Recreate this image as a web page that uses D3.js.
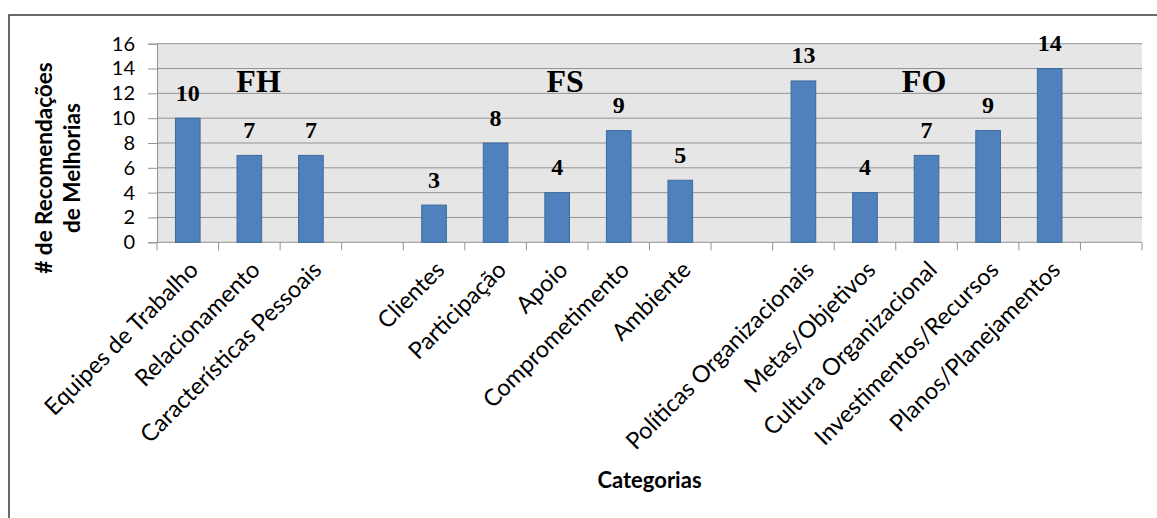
<!DOCTYPE html>
<html>
<head>
<meta charset="utf-8">
<script src="https://cdn.jsdelivr.net/npm/d3@7"></script>
<style>
  html, body { margin: 0; padding: 0; background: #ffffff; }
  svg { display: block; }
</style>
</head>
<body>
<svg id="chart" width="1157" height="518"></svg>
<script>
// Categories in plot order; empty strings are spacer slots between groups
const categories = [
  "Equipes de Trabalho", "Relacionamento", "Características Pessoais", "",
  "Clientes", "Participação", "Apoio", "Comprometimento", "Ambiente", "",
  "Políticas Organizacionais", "Metas/Objetivos", "Cultura Organizacional",
  "Investimentos/Recursos", "Planos/Planejamentos", ""
];
const values = [10, 7, 7, null, 3, 8, 4, 9, 5, null, 13, 4, 7, 9, 14, null];

// Group headings and where they sit (slot position, value height)
const groupNames = ["FH", "FS", "FO"];
const groupSlots = [1.15, 6.13, 11.96];
const groupLevel = 12.1;

const yTicks = [0, 2, 4, 6, 8, 10, 12, 14, 16];
const yTitleLines = ["# de Recomendações", "de Melhorias"];
const xTitle = "Categorias";

const svg = d3.select("#chart");
const W = 1157, H = 518;
const plot = { left: 157, right: 1142, top: 43.7, bottom: 242.3 };

svg.append("rect").attr("width", W).attr("height", H).attr("fill", "#ffffff");

// outer frame (top and left edges)
svg.append("path")
  .attr("d", `M9,${H} L9,15 L${W},15`)
  .attr("fill", "none").attr("stroke", "#3a3a3a").attr("stroke-width", 1.5);

const x = d3.scaleBand()
  .domain(d3.range(categories.length))
  .range([plot.left, plot.right])
  .paddingInner(0.6)
  .paddingOuter(0.3);

const slotX = d3.scaleLinear()
  .domain([0, categories.length])
  .range([plot.left, plot.right]);

const y = d3.scaleLinear().domain([0, 16]).range([plot.bottom, plot.top]);

// plot background
svg.append("rect")
  .attr("x", plot.left).attr("y", plot.top)
  .attr("width", plot.right - plot.left).attr("height", plot.bottom - plot.top)
  .attr("fill", "#e6e6e6");

// horizontal gridlines
svg.append("g")
  .selectAll("line")
  .data(yTicks.filter(d => d > 0))
  .join("line")
  .attr("x1", plot.left).attr("x2", plot.right)
  .attr("y1", d => y(d)).attr("y2", d => y(d))
  .attr("stroke", "#939393").attr("stroke-width", 1);

// y axis
const yAxis = svg.append("g")
  .attr("transform", `translate(${plot.left},0)`)
  .call(d3.axisLeft(y).tickValues(yTicks).tickSize(9).tickPadding(13));
yAxis.select(".domain").attr("stroke", "#939393");
yAxis.selectAll(".tick line").attr("stroke", "#939393");
yAxis.selectAll(".tick text")
  .attr("font-family", "Lato, 'Open Sans', sans-serif")
  .attr("font-size", 20)
  .attr("fill", "#000");

// x axis baseline and slot boundary ticks
svg.append("line")
  .attr("x1", plot.left).attr("x2", plot.right)
  .attr("y1", y(0)).attr("y2", y(0))
  .attr("stroke", "#939393");
svg.append("g")
  .selectAll("line")
  .data(d3.range(categories.length + 1))
  .join("line")
  .attr("x1", d => slotX(d)).attr("x2", d => slotX(d))
  .attr("y1", y(0)).attr("y2", y(0) + 8)
  .attr("stroke", "#939393");

// bars
const barData = values.map((v, i) => ({ i, v })).filter(d => d.v != null);
svg.append("g")
  .selectAll("rect")
  .data(barData)
  .join("rect")
  .attr("x", d => x(d.i))
  .attr("y", d => y(d.v))
  .attr("width", x.bandwidth())
  .attr("height", d => y(0) - y(d.v))
  .attr("fill", "#4f81bd")
  .attr("stroke", "#3d6a9e")
  .attr("stroke-width", 1);

// value labels
svg.append("g")
  .selectAll("text")
  .data(barData)
  .join("text")
  .attr("x", d => x(d.i) + x.bandwidth() / 2)
  .attr("y", d => y(d.v) - 17.5)
  .attr("text-anchor", "middle")
  .attr("font-family", "'Liberation Serif', 'Times New Roman', serif")
  .attr("font-weight", "bold")
  .attr("font-size", 24)
  .attr("fill", "#000")
  .text(d => d.v);

// group headings
svg.append("g")
  .selectAll("text")
  .data(groupNames)
  .join("text")
  .attr("x", (d, k) => slotX(groupSlots[k] + 0.5))
  .attr("y", y(groupLevel))
  .attr("text-anchor", "middle")
  .attr("font-family", "'Liberation Serif', 'Times New Roman', serif")
  .attr("font-weight", "bold")
  .attr("font-size", 32)
  .attr("fill", "#000")
  .text(d => d);

// rotated category labels
svg.append("g")
  .selectAll("text")
  .data(categories.map((c, i) => ({ c, i })).filter(d => d.c))
  .join("text")
  .attr("transform", d => `translate(${x(d.i) + x.bandwidth() / 2 + 12},${y(0) + 29}) rotate(-45)`)
  .attr("text-anchor", "end")
  .attr("font-family", "Lato, 'Open Sans', sans-serif")
  .attr("font-size", 23.5)
  .attr("fill", "#000")
  .text(d => d.c);

// axis titles
const yTitle = svg.append("text")
  .attr("transform", "translate(0,168) rotate(-90)")
  .attr("text-anchor", "middle")
  .attr("font-family", "Lato, 'Open Sans', sans-serif")
  .attr("font-weight", "bold")
  .attr("font-size", 22.5)
  .attr("fill", "#000");
yTitle.selectAll("tspan")
  .data(yTitleLines)
  .join("tspan")
  .attr("x", 0)
  .attr("y", (d, k) => 52 + k * 28)
  .text(d => d);

svg.append("text")
  .attr("x", (plot.left + plot.right) / 2)
  .attr("y", 488)
  .attr("text-anchor", "middle")
  .attr("font-family", "Lato, 'Open Sans', sans-serif")
  .attr("font-weight", "bold")
  .attr("font-size", 22)
  .attr("fill", "#000")
  .text(xTitle);
</script>
</body>
</html>
